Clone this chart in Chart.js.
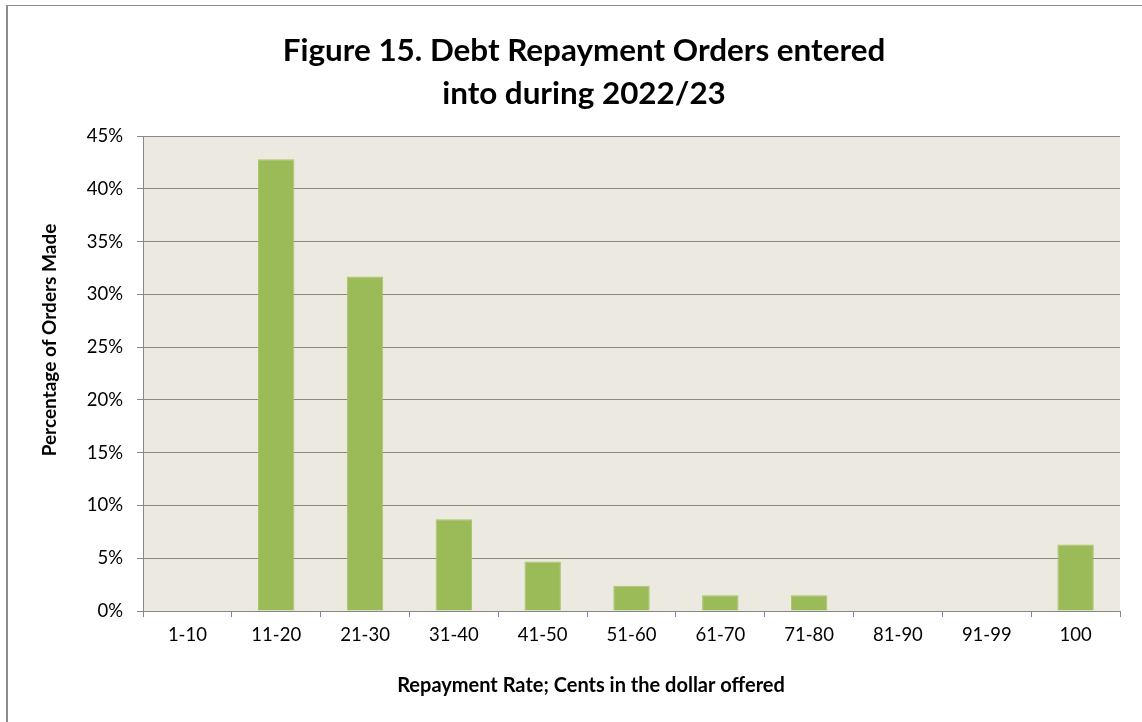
<!DOCTYPE html>
<html>
<head>
<meta charset="utf-8">
<script src="https://cdn.jsdelivr.net/npm/chart.js@4/dist/chart.umd.min.js"></script>
<style>
    html, body { margin: 0; padding: 0; background: #fff; overflow: hidden; }
    #wrap { position: relative; width: 1142px; height: 722px; }
    #frame { position: absolute; left: 6px; top: 5px; width: 1200px; height: 800px; border: 1px solid #8c8c8c; border-width: 1px 0 0 2px; }
    canvas { position: absolute; left: 0; top: 0; }
</style>
</head>
<body>
<div id="wrap">
    <div id="frame"></div>
    <canvas id="chart" width="1142" height="722"></canvas>
</div>
<script>
// Repayment rate bands and share of orders (%)
const categories = ['1-10', '11-20', '21-30', '31-40', '41-50', '51-60', '61-70', '71-80', '81-90', '91-99', '100'];
const orderShare = [0, 42.8, 31.7, 8.7, 4.7, 2.4, 1.5, 1.5, 0, 0, 6.3];
const yTicks = [0, 5, 10, 15, 20, 25, 30, 35, 40, 45];

const titleLines = ['Figure 15. Debt Repayment Orders entered', 'into during 2022/23'];
const xTitle = 'Repayment Rate; Cents in the dollar offered';
const yTitle = 'Percentage of Orders Made';

const FONT = 'Lato, "Open Sans", sans-serif';

// fill the plot area with the beige background
const plotBackground = {
    id: 'plotBackground',
    beforeDraw(chart) {
        const { ctx, chartArea } = chart;
        ctx.save();
        ctx.fillStyle = '#ECEAE0';
        ctx.fillRect(chartArea.left, chartArea.top, chartArea.right - chartArea.left, chartArea.bottom - chartArea.top);
        ctx.restore();
    }
};

// titles sit off-centre in the original (Excel layout), so draw them by hand
const chartTitles = {
    id: 'chartTitles',
    afterDraw(chart) {
        const ctx = chart.ctx;
        ctx.save();
        ctx.fillStyle = '#000';
        ctx.textAlign = 'center';
        ctx.textBaseline = 'middle';

        ctx.font = 'bold 31.4px ' + FONT;
        ctx.fillText(titleLines[0], 584, 51);
        ctx.fillText(titleLines[1], 584, 94);

        ctx.font = 'bold 20px ' + FONT;
        ctx.fillText(xTitle, 591, 686);

        ctx.translate(50, 340);
        ctx.rotate(-Math.PI / 2);
        ctx.font = 'bold 19px ' + FONT;
        ctx.fillText(yTitle, 0, 0);
        ctx.restore();
    }
};

document.addEventListener('DOMContentLoaded', function() {
    const ctx = document.getElementById('chart');

    // eslint-disable-next-line no-new
    new Chart(ctx, {
        type: 'bar',
        data: {
            labels: categories,
            datasets: [{
                data: orderShare,
                backgroundColor: '#9BBB59',
                borderColor: '#A8C46B',
                borderWidth: 1,
                barPercentage: 0.41,
                categoryPercentage: 1
            }]
        },
        options: {
            responsive: false,
            animation: false,
            layout: {
                padding: { left: 20, right: 22, top: 136, bottom: 20 }
            },
            plugins: {
                legend: { display: false },
                tooltip: { enabled: false },
                title: { display: false }
            },
            scales: {
                x: {
                    afterFit: function(scale) { scale.height = 91; },
                    grid: {
                        display: true,
                        drawOnChartArea: false,
                        drawTicks: true,
                        tickLength: 6,
                        color: '#888',
                        offset: true
                    },
                    border: { display: true, color: '#888', width: 1 },
                    ticks: {
                        color: '#000',
                        font: { family: FONT, size: 18.5 },
                        padding: 7,
                        maxRotation: 0
                    }
                },
                y: {
                    min: 0,
                    max: 45,
                    afterFit: function(scale) { scale.width = 123; },
                    afterBuildTicks: function(scale) {
                        scale.ticks = yTicks.map(v => ({ value: v }));
                    },
                    grid: {
                        color: '#888',
                        lineWidth: 1,
                        tickLength: 6
                    },
                    border: { display: true, color: '#888', width: 1 },
                    ticks: {
                        color: '#000',
                        font: { family: FONT, size: 18.5 },
                        padding: 14,
                        callback: v => v + '%'
                    }
                }
            }
        },
        plugins: [plotBackground, chartTitles]
    });
});
</script>
</body>
</html>
